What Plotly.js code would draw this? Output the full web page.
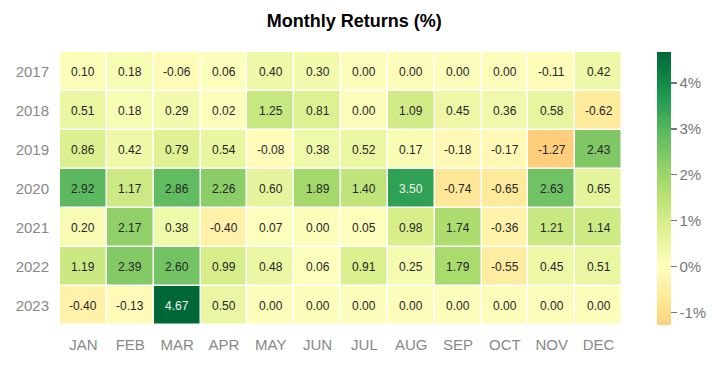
<!DOCTYPE html>
<html><head><meta charset="utf-8">
<script src="https://cdn.plot.ly/plotly-3.0.1.min.js"></script>
<style>html,body{margin:0;padding:0;background:#fff}#chart{width:720px;height:372px}</style>
</head><body><div id="chart"></div>
<script>
const months = ["JAN","FEB","MAR","APR","MAY","JUN","JUL","AUG","SEP","OCT","NOV","DEC"];
const years = ["2017","2018","2019","2020","2021","2022","2023"];
const r2017 = [0.10,0.18,-0.06,0.06,0.40,0.30,0.00,0.00,0.00,0.00,-0.11,0.42];
const r2018 = [0.51,0.18,0.29,0.02,1.25,0.81,0.00,1.09,0.45,0.36,0.58,-0.62];
const r2019 = [0.86,0.42,0.79,0.54,-0.08,0.38,0.52,0.17,-0.18,-0.17,-1.27,2.43];
const r2020 = [2.92,1.17,2.86,2.26,0.60,1.89,1.40,3.50,-0.74,-0.65,2.63,0.65];
const r2021 = [0.20,2.17,0.38,-0.40,0.07,0.00,0.05,0.98,1.74,-0.36,1.21,1.14];
const r2022 = [1.19,2.39,2.60,0.99,0.48,0.06,0.91,0.25,1.79,-0.55,0.45,0.51];
const r2023 = [-0.40,-0.13,4.67,0.50,0.00,0.00,0.00,0.00,0.00,0.00,0.00,0.00];
const colorTicks = [-1,0,1,2,3,4];
const colorTickText = ["-1%","0%","1%","2%","3%","4%"];

const FONT = '"Liberation Sans", Arial, Helvetica, sans-serif';
const z = [r2017,r2018,r2019,r2020,r2021,r2022,r2023];
const flat = z.flat();
const zmin = Math.min(...flat), zmax = Math.max(...flat);
const half = Math.max(Math.abs(zmin), Math.abs(zmax));
// RdYlGn centred at 0 (seaborn style), truncated to data range
const rdylgn = ["#a50026","#d73027","#f46d43","#fdae61","#fee08b","#ffffbf","#d9ef8b","#a6d96a","#66bd63","#1a9850","#006837"];
function hex2rgb(h){return [parseInt(h.slice(1,3),16),parseInt(h.slice(3,5),16),parseInt(h.slice(5,7),16)];}
function cmapRgb(p){
  p=Math.min(1,Math.max(0,p)); const f=p*10; const i=Math.min(9,Math.floor(f)); const t=f-i;
  const a=hex2rgb(rdylgn[i]), b=hex2rgb(rdylgn[i+1]);
  return a.map((v,k)=>Math.round(v+(b[k]-v)*t));
}
const cs=[]; const N=40;
for(let k=0;k<=N;k++){ const t=k/N; const v=zmin+t*(zmax-zmin); cs.push([t, 'rgb('+cmapRgb((v+half)/(2*half)).join(',')+')']); }

const annotations=[];
z.forEach((row,i)=>row.forEach((v,j)=>{
  const c=cmapRgb((v+half)/(2*half));
  const lum=(0.299*c[0]+0.587*c[1]+0.114*c[2])/255;
  annotations.push({x:months[j], y:years[i], xref:'x', yref:'y', text:v.toFixed(2), showarrow:false,
    font:{family:FONT, size:12, color: lum<0.5 ? '#f4f4f4' : '#262626'}});
}));

const trace = {
  type:'heatmap', x:months, y:years, z:z,
  colorscale:cs, zmin:zmin, zmax:zmax, xgap:1.5, ygap:1.5, hoverinfo:'skip',
  colorbar:{x:1.062, xanchor:'left', xpad:0, thickness:14, len:1, lenmode:'fraction', y:0.5, yanchor:'middle', ypad:0,
    outlinewidth:0, tickmode:'array', tickvals:colorTicks, ticktext:colorTickText, ticks:'outside', ticklen:6, tickcolor:'#777', tickwidth:1.5,
    tickfont:{family:FONT, size:15, color:'#777'}}
};
const layout = {
  width:720, height:372, margin:{l:60, r:98, t:52, b:47},
  paper_bgcolor:'#fff', plot_bgcolor:'#fff',
  title:{text:'<b>Monthly Returns (%)</b>', x:0.492, xanchor:'center', y:0.945, yanchor:'middle',
    font:{family:FONT, size:18, color:'#000'}},
  annotations:annotations,
  xaxis:{showgrid:false, zeroline:false, ticks:'', ticklabelstandoff:9, tickfont:{family:FONT, size:15, color:'#888'}},
  yaxis:{autorange:'reversed', showgrid:false, zeroline:false, ticks:'', ticklabelstandoff:10, tickfont:{family:FONT, size:15, color:'#888'}}
};
Plotly.newPlot('chart',[trace],layout,{displayModeBar:false, staticPlot:true});
</script></body></html>
